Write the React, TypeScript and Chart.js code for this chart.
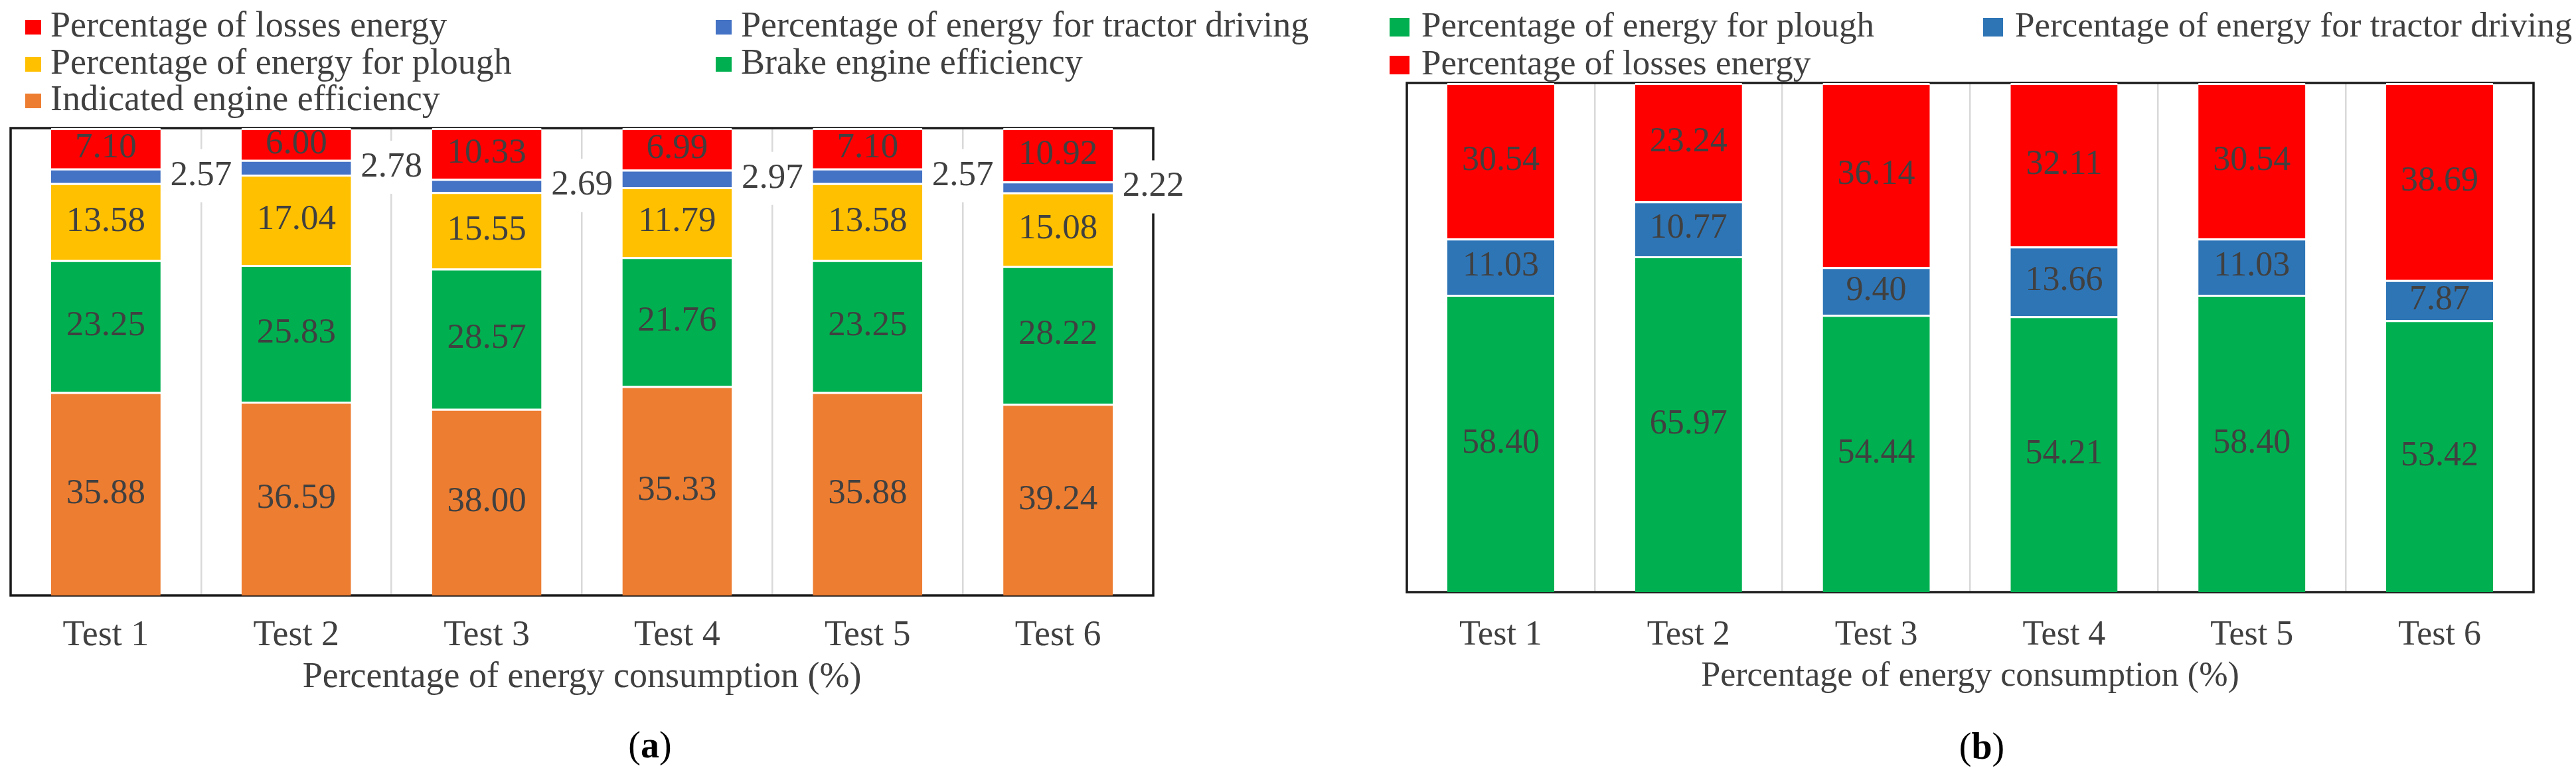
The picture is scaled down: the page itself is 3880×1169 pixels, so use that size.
import React, { useEffect, useRef } from "react";
import { Chart, registerables } from "chart.js";

Chart.register(...registerables);

// ---------- data ----------
const categories = ["Test 1", "Test 2", "Test 3", "Test 4", "Test 5", "Test 6"];
const axisTitle = "Percentage of energy consumption (%)";

// chart (a) – stack order bottom → top
const aIndicated = [35.88, 36.59, 38.0, 35.33, 35.88, 39.24];
const aBrake = [23.25, 25.83, 28.57, 21.76, 23.25, 28.22];
const aPlough = [13.58, 17.04, 15.55, 11.79, 13.58, 15.08];
const aTractor = [2.57, 2.78, 2.69, 2.97, 2.57, 2.22];
const aLosses = [7.1, 6.0, 10.33, 6.99, 7.1, 10.92];
const aLabels = [
  "Indicated engine efficiency",
  "Brake engine efficiency",
  "Percentage of energy for plough",
  "Percentage of energy for tractor driving",
  "Percentage of losses energy",
];
const aColors = ["#ED7D31", "#00B050", "#FFC000", "#4472C4", "#FF0000"];
const aLegendOrder = [4, 3, 2, 1, 0];

// chart (b) – stack order bottom → top
const bPlough = [58.4, 65.97, 54.44, 54.21, 58.4, 53.42];
const bTractor = [11.03, 10.77, 9.4, 13.66, 11.03, 7.87];
const bLosses = [30.54, 23.24, 36.14, 32.11, 30.54, 38.69];
const bLabels = [
  "Percentage of energy for plough",
  "Percentage of energy for tractor driving",
  "Percentage of losses energy",
];
const bColors = ["#00B050", "#2E75B6", "#FF0000"];
const bLegendOrder = [0, 1, 2];

// ---------- styling ----------
const FONT = '"Liberation Serif", "Times New Roman", serif';
const TEXT = "#404040";

type Spec = {
  series: number[][];
  labels: string[];
  colors: string[];
  legendOrder: number[];
  sideSeries: number; // index of series whose labels sit beside the bar (-1: none)
  pad: { left: number; right: number; top: number; bottom: number };
  barPct: number;
  fontSize: number;
  labelSize: number;
  tickPad: number;
  titlePadTop: number;
  legend: { cols: number[]; rows: number[]; boxW: number; boxH: number; textOffset: number; size: number };
};

function framePlugin() {
  return {
    id: "frame",
    beforeDatasetsDraw(chart: any) {
      const { ctx, chartArea: a } = chart;
      ctx.save();
      ctx.strokeStyle = "#1a1a1a";
      ctx.lineWidth = 3.5;
      ctx.strokeRect(a.left, a.top, a.right - a.left, a.bottom - a.top);
      ctx.restore();
    },
  };
}

function valueLabelPlugin(s: Spec) {
  return {
    id: "valueLabels",
    afterDatasetsDraw(chart: any) {
      const ctx = chart.ctx;
      const xs = chart.scales.x;
      const step = xs.getPixelForValue(1) - xs.getPixelForValue(0);
      ctx.save();
      ctx.font = `${s.labelSize}px ${FONT}`;
      ctx.textAlign = "center";
      ctx.textBaseline = "middle";
      chart.data.datasets.forEach((ds: any, di: number) => {
        const meta = chart.getDatasetMeta(di);
        meta.data.forEach((bar: any, i: number) => {
          const txt = Number(ds.values[i]).toFixed(2);
          const p = bar.getProps(["x", "y", "base"], true);
          const cy = (p.y + p.base) / 2;
          if (di === s.sideSeries) {
            const cx = p.x + step / 2;
            const tw = ctx.measureText(txt).width;
            ctx.fillStyle = "#FFFFFF";
            ctx.fillRect(cx - tw / 2 - 8, cy - 40, tw + 16, 80);
            ctx.fillStyle = TEXT;
            ctx.fillText(txt, cx, cy);
          } else {
            ctx.fillStyle = TEXT;
            ctx.fillText(txt, p.x, cy);
          }
        });
      });
      ctx.restore();
    },
  };
}

function legendPlugin(s: Spec) {
  return {
    id: "gridLegend",
    afterDraw(chart: any) {
      const L = s.legend;
      const ctx = chart.ctx;
      ctx.save();
      ctx.font = `${L.size}px ${FONT}`;
      ctx.textAlign = "left";
      ctx.textBaseline = "middle";
      s.legendOrder.forEach((di, k) => {
        const ds = chart.data.datasets[di];
        const col = k % L.cols.length;
        const row = Math.floor(k / L.cols.length);
        const x = L.cols[col];
        const y = L.rows[row];
        ctx.fillStyle = ds.backgroundColor;
        ctx.fillRect(x, y - L.boxH / 2, L.boxW, L.boxH);
        ctx.fillStyle = TEXT;
        ctx.fillText(ds.label, x + L.textOffset, y);
      });
      ctx.restore();
    },
  };
}

function makeConfig(s: Spec): any {
  const totals = categories.map((_, i) => s.series.reduce((acc, v) => acc + v[i], 0));
  const datasets = s.series.map((vals, k) => ({
    label: s.labels[k],
    data: vals.map((v, i) => (v / totals[i]) * 100),
    values: vals,
    backgroundColor: s.colors[k],
    borderColor: "#FFFFFF",
    borderWidth: { top: 3, bottom: 0, left: 0, right: 0 },
    borderSkipped: false,
    categoryPercentage: 1,
    barPercentage: s.barPct,
  }));
  return {
    type: "bar",
    data: { labels: categories, datasets },
    options: {
      animation: false,
      responsive: true,
      maintainAspectRatio: false,
      layout: { padding: s.pad },
      plugins: { legend: { display: false }, tooltip: { enabled: false }, title: { display: false } },
      scales: {
        x: {
          stacked: true,
          grid: { color: "#D9D9D9", lineWidth: 2.5, drawTicks: false, offset: true },
          border: { display: false },
          ticks: {
            color: TEXT,
            padding: s.tickPad,
            font: { family: FONT, size: s.fontSize, lineHeight: 1.2 },
          },
          title: {
            display: true,
            text: axisTitle,
            color: TEXT,
            font: { family: FONT, size: s.fontSize, lineHeight: 1.2 },
            padding: { top: s.titlePadTop, bottom: 0 },
          },
        },
        y: { stacked: true, min: 0, max: 100, display: false },
      },
    },
    plugins: [framePlugin(), valueLabelPlugin(s), legendPlugin(s)],
  };
}

const specA: Spec = {
  series: [aIndicated, aBrake, aPlough, aTractor, aLosses],
  labels: aLabels,
  colors: aColors,
  legendOrder: aLegendOrder,
  sideSeries: 3,
  pad: { left: 16, right: 263, top: 193, bottom: 115.6 },
  barPct: 0.575,
  fontSize: 54,
  labelSize: 53,
  tickPad: 28,
  titlePadTop: -29.2,
  legend: { cols: [38, 1078], rows: [41, 97, 152], boxW: 24, boxH: 22, textOffset: 38, size: 54 },
};

const specB: Spec = {
  series: [bPlough, bTractor, bLosses],
  labels: bLabels,
  colors: bColors,
  legendOrder: bLegendOrder,
  sideSeries: -1,
  pad: { left: 179, right: 64, top: 125, bottom: 118.8 },
  barPct: 0.57,
  fontSize: 52,
  labelSize: 52,
  tickPad: 33.8,
  titlePadTop: -34.2,
  legend: { cols: [153, 1047], rows: [41, 98], boxW: 30, boxH: 28, textOffset: 48, size: 53 },
};

function ChartBox({ spec, left, width }: { spec: Spec; left: number; width: number }) {
  const ref = useRef<HTMLCanvasElement>(null);
  useEffect(() => {
    const chart = new Chart(ref.current as HTMLCanvasElement, makeConfig(spec));
    return () => chart.destroy();
  }, []);
  return (
    <div style={{ position: "absolute", left, top: 0, width, height: 1169 }}>
      <canvas ref={ref} />
    </div>
  );
}

function Caption({ letter, cx, cy }: { letter: string; cx: number; cy: number }) {
  return (
    <div
      style={{
        position: "absolute",
        left: cx - 100,
        top: cy - 40,
        width: 200,
        height: 80,
        lineHeight: "80px",
        textAlign: "center",
        fontFamily: FONT,
        fontSize: 56,
        color: "#000",
      }}
    >
      (<b>{letter}</b>)
    </div>
  );
}

export default function App() {
  return (
    <div
      style={{
        position: "absolute",
        left: 0,
        top: 0,
        width: 3880,
        height: 1169,
        background: "#FFFFFF",
        overflow: "hidden",
      }}
    >
      <ChartBox spec={specA} left={0} width={2000} />
      <ChartBox spec={specB} left={1940} width={1940} />
      <Caption letter="a" cx={979} cy={1122} />
      <Caption letter="b" cx={2985} cy={1124} />
    </div>
  );
}
